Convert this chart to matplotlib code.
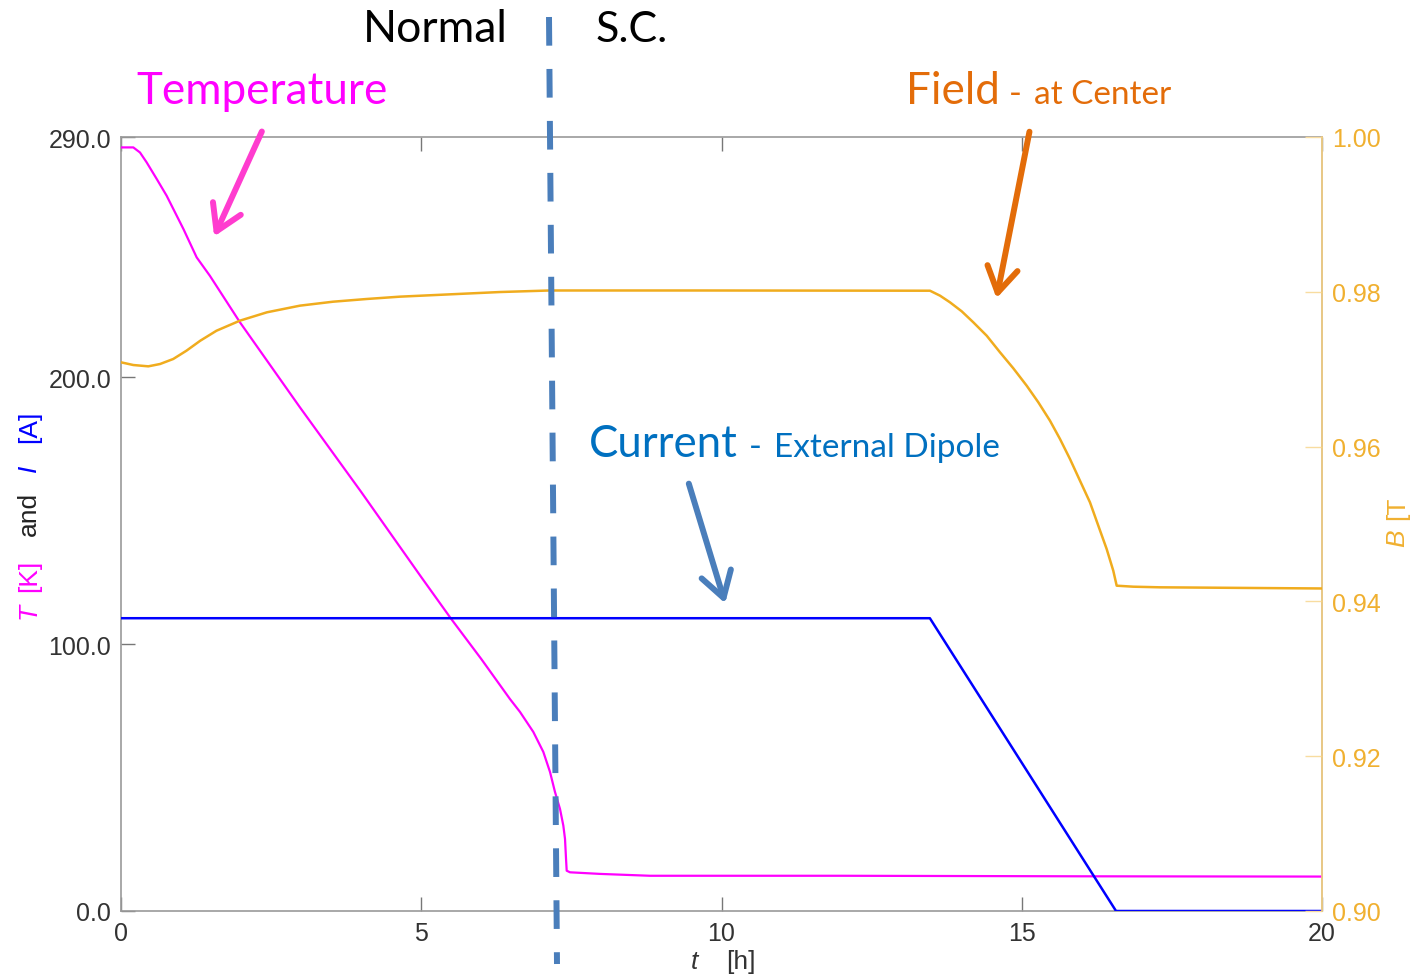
import matplotlib
matplotlib.use("Agg")
import matplotlib.pyplot as plt
from matplotlib.patches import FancyArrowPatch
from matplotlib.lines import Line2D

# ---------------- data ----------------
t_temp = [0.0, 0.205, 0.316, 0.427, 0.594, 0.76, 1.04, 1.26, 1.48, 1.98, 2.98,
          4.0, 5.0, 5.5, 6.0, 6.478, 6.644, 6.866, 7.033, 7.144, 7.227, 7.311,
          7.366, 7.394, 7.411, 7.422, 7.477, 7.977, 8.809, 12.0, 16.0, 20.0]
temp_K = [286.1, 286.1, 284.2, 280.5, 274.3, 268.0, 255.5, 244.9, 238.0, 220.6,
          188.7, 157.0, 125.1, 109.4, 94.4, 79.4, 74.6, 67.1, 59.6, 52.1, 44.6,
          38.2, 32.0, 27.0, 19.5, 15.1, 14.5, 13.9, 13.2, 13.2, 13.0, 12.9]

t_field = [0.0, 0.205, 0.455, 0.65, 0.87, 1.09, 1.32, 1.59, 1.98, 2.43, 2.98,
           3.53, 4.09, 4.64, 6.31, 7.14, 9.64, 13.472, 13.639, 13.805, 14.0,
           14.193, 14.416, 14.638, 14.859, 15.082, 15.276, 15.47, 15.637,
           15.803, 15.97, 16.136, 16.275, 16.414, 16.524, 16.581, 16.858,
           17.302, 20.0]
field_T = [0.97089, 0.97054, 0.97037, 0.97067, 0.97132, 0.97239, 0.97368,
           0.97497, 0.97627, 0.97735, 0.97821, 0.97872, 0.97907, 0.97937,
           0.97997, 0.98017, 0.98017, 0.98014, 0.97950, 0.97864, 0.97748,
           0.97606, 0.97433, 0.97218, 0.97012, 0.96787, 0.96572, 0.96335,
           0.96098, 0.95840, 0.95559, 0.95280, 0.94978, 0.94677, 0.94397,
           0.94203, 0.94190, 0.94182, 0.94167]

t_current = [0.0, 13.47, 16.57, 20.0]
current_A = [109.7, 109.7, 0.0, 0.0]

x_ticks = [0, 5, 10, 15, 20]
y_ticks_left = [0.0, 100.0, 200.0, 290.0]
y_ticks_right = [0.90, 0.92, 0.94, 0.96, 0.98, 1.00]

# ---------------- style ----------------
W, H = 1418, 978
C_TEMP = "#ff00ff"
C_CURR = "#0000ff"
C_FIELD = "#f0ac1e"
C_FIELD_TXT = "#f0b030"
C_ORANGE = "#e36c09"
C_BLUE_TXT = "#0070c0"
C_STEEL = "#4a7ebb"
C_FRAME = "#9a9a9a"
ANN_FONT = "Lato"
TICK_FONT = "Liberation Sans"
TICK_SIZE = 18

def fx(x):
    return x / W

def fy(y):
    return 1 - y / H

fig = plt.figure(figsize=(W / 100, H / 100), dpi=100)
ax = fig.add_axes([fx(121), fy(912), fx(1322) - fx(121), fy(138) - fy(912)])

ax.plot(t_temp, temp_K, color=C_TEMP, lw=1.6, zorder=3)
ax.plot(t_current, current_A, color=C_CURR, lw=1.8, zorder=3)
ax.set_xlim(0, 20)
ax.set_ylim(0, 290)
ax.set_xticks(x_ticks)
ax.set_xticklabels([str(v) for v in x_ticks])
ax.set_yticks(y_ticks_left)
ax.set_yticklabels(["%.1f" % v for v in y_ticks_left])
ax.tick_params(direction="in", top=True, right=True, length=10, width=1,
               color="#777777", labelcolor="#333333", labelsize=TICK_SIZE, pad=7)
for lab in ax.get_xticklabels() + ax.get_yticklabels():
    lab.set_fontfamily(TICK_FONT)
for s in ax.spines.values():
    s.set_color(C_FRAME)
    s.set_linewidth(1.2)

ax2 = ax.twinx()
ax2.plot(t_field, field_T, color=C_FIELD, lw=1.8, zorder=3)
ax2.set_ylim(0.90, 1.00)
ax2.set_yticks(y_ticks_right)
ax2.set_yticklabels(["%.2f" % v for v in y_ticks_right])
ax2.tick_params(direction="in", length=12, width=1, color="#f8dca0",
                labelcolor=C_FIELD_TXT, labelsize=TICK_SIZE, pad=7)
for lab in ax2.get_yticklabels():
    lab.set_fontfamily(TICK_FONT)
for k in ["left", "top", "bottom"]:
    ax2.spines[k].set_visible(False)
ax2.spines["right"].set_color("#f5cf80")
ax2.spines["right"].set_linewidth(1.2)

# axis labels
fig.text(fx(694), fy(962), "t", fontsize=19, style="italic", color="#333333",
         family=TICK_FONT, ha="center", va="center")
fig.text(fx(741), fy(962), "[h]", fontsize=19, color="#333333",
         family=TICK_FONT, ha="center", va="center")

ylab = [("T", C_TEMP, "italic", 611), ("[K]", C_TEMP, "normal", 576),
        ("and", "#222222", "normal", 514), ("I", C_CURR, "italic", 468),
        ("[A]", C_CURR, "normal", 427)]
for txt, col, sty, yy in ylab:
    fig.text(fx(29), fy(yy), txt, fontsize=19, color=col, style=sty,
             family=TICK_FONT, rotation=90, ha="center", va="center")

fig.text(fx(1397), fy(538), "B", fontsize=19, color=C_FIELD_TXT,
         style="italic", family=TICK_FONT, rotation=90, ha="center", va="center")
fig.text(fx(1397), fy(508), "[T", fontsize=19, color=C_FIELD_TXT,
         family=TICK_FONT, rotation=90, ha="center", va="center")

# transition dashed line
fig.add_artist(Line2D([fx(549), fx(557)], [fy(18), fy(965)], color=C_STEEL,
                      lw=4.3, dashes=(4.8, 3.9), transform=fig.transFigure,
                      zorder=5))
fig.text(fx(363), fy(42), "Normal", fontsize=32, family=ANN_FONT,
         color="black", ha="left", va="baseline")
fig.text(fx(596), fy(42), "S.C.", fontsize=31, family=ANN_FONT,
         color="black", ha="left", va="baseline")

# annotations
fig.text(fx(136), fy(104), "Temperature", fontsize=31.7, family=ANN_FONT,
         color=C_TEMP, ha="left", va="baseline")
fig.text(fx(906), fy(104), "Field", fontsize=31.7, family=ANN_FONT,
         color=C_ORANGE, ha="left", va="baseline")
fig.text(fx(1009), fy(104), "-", fontsize=25, family=ANN_FONT,
         color=C_ORANGE, ha="left", va="baseline")
fig.text(fx(1034), fy(104), "at Center", fontsize=24, family=ANN_FONT,
         color=C_ORANGE, ha="left", va="baseline")
fig.text(fx(589), fy(457), "Current", fontsize=31.5, family=ANN_FONT,
         color=C_BLUE_TXT, ha="left", va="baseline")
fig.text(fx(749), fy(457), "-", fontsize=25, family=ANN_FONT,
         color=C_BLUE_TXT, ha="left", va="baseline")
fig.text(fx(774), fy(457), "External Dipole", fontsize=24,
         family=ANN_FONT, color=C_BLUE_TXT, ha="left", va="baseline")

def arrow(x0, y0, x1, y1, col):
    a = FancyArrowPatch((fx(x0), fy(y0)), (fx(x1), fy(y1)),
                        transform=fig.transFigure,
                        arrowstyle="->,head_length=0.9,head_width=0.55",
                        color=col, lw=4.3, mutation_scale=20, zorder=6,
                        capstyle="round", joinstyle="round")
    fig.add_artist(a)

arrow(263, 130, 213, 240, "#ff3ccf")
arrow(1030, 130, 996, 302, C_ORANGE)
arrow(688, 482, 726, 607, C_STEEL)

fig.savefig("out.png", dpi=100)
